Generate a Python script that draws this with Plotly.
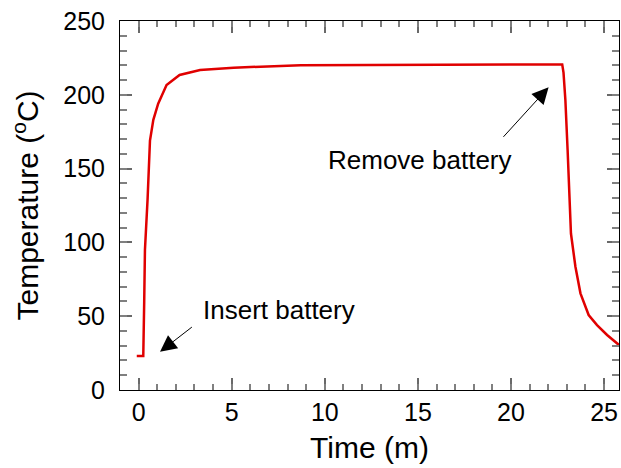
import plotly.graph_objects as go

time_m = [-0.1, 0.25, 0.3, 0.34, 0.48, 0.61, 0.79, 1.05, 1.5, 2.2, 3.3, 5.1, 8.7, 15.0,
          22.75, 22.82, 22.92, 23.04, 23.13, 23.22, 23.46, 23.73, 24.17, 24.62, 25.16, 25.8]
temp_c = [23, 23, 60, 95, 129, 169, 183, 194, 206.6, 213.4, 216.8, 218.4, 220, 220.3,
          220.6, 215, 196.5, 162.6, 128.7, 106, 83.5, 65.5, 50.8, 44, 37.3, 30.5]

x_ticks = [0, 5, 10, 15, 20, 25]
y_ticks = [0, 50, 100, 150, 200, 250]
x_minor_step = 1
y_minor_step = 10

X_RANGE = [-1, 25.8]
Y_RANGE = [0, 250]
FONT = "Liberation Sans, Arial, sans-serif"

fig = go.Figure()
# invisible copy on overlay axes so the minor-tick axes are drawn
fig.add_trace(go.Scatter(x=time_m, y=temp_c, mode="lines", xaxis="x2", yaxis="y2",
                         line=dict(color="rgba(0,0,0,0)", width=1), hoverinfo="skip",
                         showlegend=False))
fig.add_trace(go.Scatter(x=time_m, y=temp_c, mode="lines",
                         line=dict(color="#e00000", width=2.5), showlegend=False))

fig.update_layout(
    xaxis=dict(range=X_RANGE, tickmode="linear", tick0=x_ticks[0], dtick=x_ticks[1] - x_ticks[0],
               ticks="inside", ticklen=12, tickwidth=2, tickcolor="dimgray",
               showline=True, linecolor="black", linewidth=1, mirror="allticks",
               showgrid=False, zeroline=False,
               tickfont=dict(family=FONT, size=25, color="black"),
               title=dict(text="Time (m)", font=dict(family=FONT, size=30, color="black"), standoff=11)),
    yaxis=dict(range=Y_RANGE, tickmode="linear", tick0=y_ticks[0], dtick=y_ticks[1] - y_ticks[0],
               ticks="inside", ticklen=12, tickwidth=2, tickcolor="dimgray",
               showline=True, linecolor="black", linewidth=1, mirror="allticks",
               showgrid=False, zeroline=False, ticklabelstandoff=9,
               tickfont=dict(family=FONT, size=25, color="black"),
               title=dict(text="Temperature (<sup>o</sup>C)", font=dict(family=FONT, size=30, color="black"), standoff=15)),
    xaxis2=dict(range=X_RANGE, overlaying="x", anchor="y", side="bottom",
                tickmode="linear", tick0=0, dtick=x_minor_step,
                ticks="inside", ticklen=6, tickwidth=2, tickcolor="gray",
                showline=True, linecolor="black", linewidth=1, mirror="allticks",
                showticklabels=False, showgrid=False, zeroline=False),
    yaxis2=dict(range=Y_RANGE, overlaying="y", anchor="x", side="left",
                tickmode="linear", tick0=0, dtick=y_minor_step,
                ticks="inside", ticklen=7, tickwidth=2, tickcolor="gray",
                showline=True, linecolor="black", linewidth=1, mirror="allticks",
                showticklabels=False, showgrid=False, zeroline=False),
)

fig.add_annotation(x=7.54, y=54.2, text="Insert battery", showarrow=False,
                   font=dict(family=FONT, size=26, color="black"))
fig.add_annotation(x=15.12, y=155.8, text="Remove battery", showarrow=False,
                   font=dict(family=FONT, size=26, color="black"))
fig.add_annotation(x=1.15, y=25.9, ax=2.94, ay=43.4, axref="x", ayref="y", text="",
                   showarrow=True, arrowhead=2, arrowsize=3.3, arrowwidth=1, arrowcolor="black")
fig.add_annotation(x=22.02, y=205.1, ax=19.52, ay=170.5, axref="x", ayref="y", text="",
                   showarrow=True, arrowhead=2, arrowsize=3.3, arrowwidth=1, arrowcolor="black")

fig.update_layout(width=621, height=468, margin=dict(l=120, r=2, t=21, b=78),
                  paper_bgcolor="white", plot_bgcolor="white",
                  font=dict(family=FONT, color="black"))

fig.write_html("out.html", config={"displayModeBar": False},
               post_script="document.body.style.margin='0px';")
